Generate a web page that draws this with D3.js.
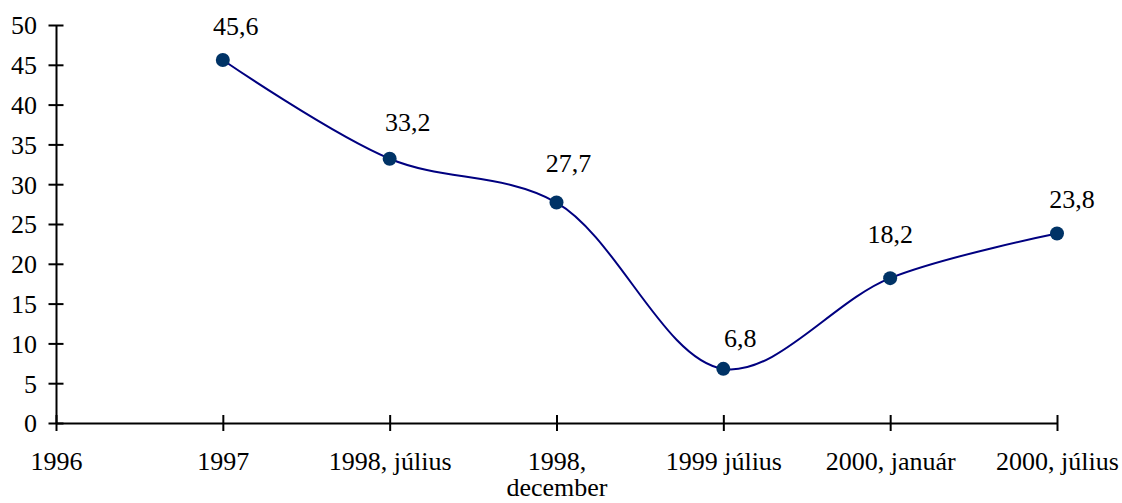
<!DOCTYPE html>
<html>
<head>
<meta charset="utf-8">
<script src="https://cdn.jsdelivr.net/npm/d3@7"></script>
<style>
  html, body { margin: 0; padding: 0; background: #fff; }
</style>
</head>
<body>
<svg id="chart" width="1122" height="503"></svg>
<script>
// ---- data ----
const categories = ["1996", "1997", "1998, július", "1998, december", "1999 július", "2000, január", "2000, július"];
const categoryLines = [["1996"], ["1997"], ["1998, július"], ["1998,", "december"], ["1999 július"], ["2000, január"], ["2000, július"]];
const seriesCategories = ["1997", "1998, július", "1998, december", "1999 július", "2000, január", "2000, július"];
const seriesValues = [45.6, 33.2, 27.7, 6.8, 18.2, 23.8];
const valueLabels = ["45,6", "33,2", "27,7", "6,8", "18,2", "23,8"];
const yTicks = [0, 5, 10, 15, 20, 25, 30, 35, 40, 45, 50];

(function draw() {
// ---- layout ----
const svg = d3.select("#chart");
const plotLeft = 56, plotRight = 1057, plotTop = 25, plotBottom = 423;
const fontSize = "26px";
const serif = "'Liberation Serif'";
// small per-label nudges (dx, dy relative to point), as placed in the original
const labelNudge = [[13, -25], [18, -28], [12, -31], [17, -22], [0, -35], [15, -26]];

const x = d3.scalePoint().domain(categories).range([plotLeft, plotRight]);
const y = d3.scaleLinear().domain([0, 50]).range([plotBottom, plotTop]);

// y axis
const yAxis = d3.axisLeft(y).tickValues(yTicks).tickSize(0).tickPadding(0).tickFormat(d3.format("d"));
const gy = svg.append("g").attr("transform", `translate(${plotLeft},0)`).call(yAxis);
gy.attr("font-family", null).attr("font-size", null);
gy.select(".domain").attr("stroke", "#000").attr("stroke-width", 2);
gy.selectAll(".tick line").remove();
gy.selectAll(".tick").append("line").attr("x1", -7.5).attr("x2", 7.5).attr("stroke", "#000").attr("stroke-width", 2);
gy.selectAll(".tick text").attr("x", -19).attr("dy", "0.34em")
  .style("font-family", serif).style("font-size", fontSize).attr("fill", "#000");

// x axis
const xAxis = d3.axisBottom(x).tickSize(0).tickFormat("");
const gx = svg.append("g").attr("transform", `translate(0,${plotBottom})`).call(xAxis);
gx.attr("font-family", null).attr("font-size", null);
gx.select(".domain").attr("stroke", "#000").attr("stroke-width", 2);
gx.selectAll(".tick line").remove();
gx.selectAll(".tick text").remove();
gx.selectAll(".tick").append("line").attr("y1", -8).attr("y2", 8).attr("stroke", "#000").attr("stroke-width", 2);
gx.selectAll(".tick").each(function(d, i) {
  const t = d3.select(this).append("text")
    .attr("text-anchor", "middle")
    .style("font-family", serif)
    .style("font-size", fontSize)
    .attr("fill", "#000");
  categoryLines[i].forEach((ln, j) => {
    t.append("tspan").attr("x", 0).attr("y", 47 + j * 26).text(ln);
  });
});

// line
const pts = seriesCategories.map((c, i) => [x(c), y(seriesValues[i])]);
const line = d3.line().curve(d3.curveCatmullRom.alpha(0.5));
svg.append("path")
  .attr("d", line(pts))
  .attr("fill", "none")
  .attr("stroke", "#000080")
  .attr("stroke-width", 2);

// markers
svg.selectAll("circle.pt").data(seriesValues).enter().append("circle")
  .attr("class", "pt")
  .attr("cx", (d, i) => x(seriesCategories[i]))
  .attr("cy", d => y(d))
  .attr("r", 7)
  .attr("fill", "#003366");

// value labels
svg.selectAll("text.val").data(seriesValues).enter().append("text")
  .attr("class", "val")
  .attr("x", (d, i) => x(seriesCategories[i]) + labelNudge[i][0])
  .attr("y", (d, i) => y(d) + labelNudge[i][1])
  .attr("text-anchor", "middle")
  .style("font-family", serif)
  .style("font-size", fontSize)
  .attr("fill", "#000")
  .text((d, i) => valueLabels[i]);
})();
</script>
</body>
</html>
